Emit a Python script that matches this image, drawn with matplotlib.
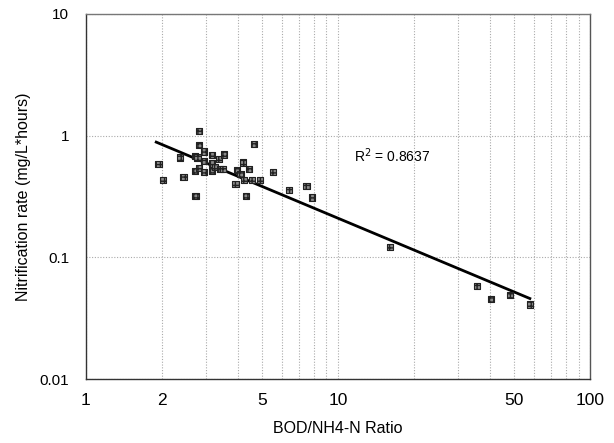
import numpy as np
import matplotlib
matplotlib.use("Agg")
import matplotlib.pyplot as plt

plt.rcParams['font.family'] = ['Liberation Sans', 'DejaVu Sans']

# Data (BOD/NH4-N ratio vs nitrification rate)
ratio = [1.94, 2.02, 2.36, 2.44, 2.71, 2.71, 2.72, 2.81, 2.81, 2.77,
         2.81, 2.94, 2.94, 2.94, 3.16, 3.16, 3.16, 3.25, 3.37, 3.42,
         3.52, 3.49, 3.92, 3.96, 4.10, 4.21, 4.25, 4.33, 4.44, 4.57,
         4.65, 4.90, 5.54, 6.41, 7.50, 7.86, 16.1, 35.6, 40.4, 48.2, 57.7]
rate = [0.58, 0.43, 0.66, 0.456, 0.68, 0.51, 0.32, 1.09, 0.84, 0.66,
        0.54, 0.74, 0.62, 0.50, 0.69, 0.59, 0.51, 0.55, 0.64, 0.53,
        0.70, 0.53, 0.40, 0.52, 0.48, 0.60, 0.43, 0.32, 0.53, 0.43,
        0.85, 0.43, 0.50, 0.36, 0.385, 0.31, 0.122, 0.058, 0.0455, 0.049, 0.041]

# Power trend line y = a * x^b
trend_a = 1.54
trend_b = -0.866
trend_x_range = [1.90, 57.7]
r2_text = "R$^2$ = 0.8637"

xticks = [1, 2, 5, 10, 50, 100]
xtick_labels = ["1", "2", "5", "10", "50", "100"]
yticks = [0.01, 0.1, 1, 10]
ytick_labels = ["0.01", "0.1", "1", "10"]

fig = plt.figure(figsize=(6.14, 4.43), dpi=100)
ax = fig.add_axes([0.140, 0.144, 0.821, 0.825])
ax.set_xscale('log')
ax.set_yscale('log')
ax.set_xlim(1, 100)
ax.set_ylim(0.01, 10)

# grid
ax.set_xticks(xticks)
ax.set_xticklabels(xtick_labels, fontsize=12.5)
ax.set_yticks(yticks)
ax.set_yticklabels(ytick_labels, fontsize=11)
ax.xaxis.set_minor_locator(matplotlib.ticker.LogLocator(base=10, subs=np.arange(2, 10)))
ax.xaxis.set_minor_formatter(matplotlib.ticker.NullFormatter())
ax.yaxis.set_minor_locator(matplotlib.ticker.NullLocator())
ax.grid(True, which='both', axis='x', color='#aaaaaa', linestyle=(0, (1, 1.5)), linewidth=0.8)
ax.grid(True, which='major', axis='y', color='#aaaaaa', linestyle=(0, (1, 1.5)), linewidth=0.8)
ax.tick_params(axis='x', which='both', length=0, pad=10)
ax.tick_params(axis='y', which='both', length=0, pad=12)
ax.set_axisbelow(True)

for s in ax.spines.values():
    s.set_color('#333333')
    s.set_linewidth(1.0)
ax.spines['top'].set_color('#777777')
ax.spines['right'].set_color('#555555')

# trend line
tx = np.logspace(np.log10(trend_x_range[0]), np.log10(trend_x_range[1]), 50)
ax.plot(tx, trend_a * tx ** trend_b, color='black', linewidth=2.0, zorder=3)

# points
ax.scatter(ratio, rate, marker='s', s=20, facecolor='#8a8a8a', edgecolor='#222222',
           linewidth=0.8, hatch='++++', zorder=4)

ax.text(11.6, 0.68, r2_text, fontsize=10, ha='left', va='center')

ax.set_xlabel("BOD/NH4-N Ratio", fontsize=11.5, labelpad=9)
ax.set_ylabel("Nitrification rate (mg/L*hours)", fontsize=11.5, labelpad=6)

fig.savefig("out.png", dpi=100)
